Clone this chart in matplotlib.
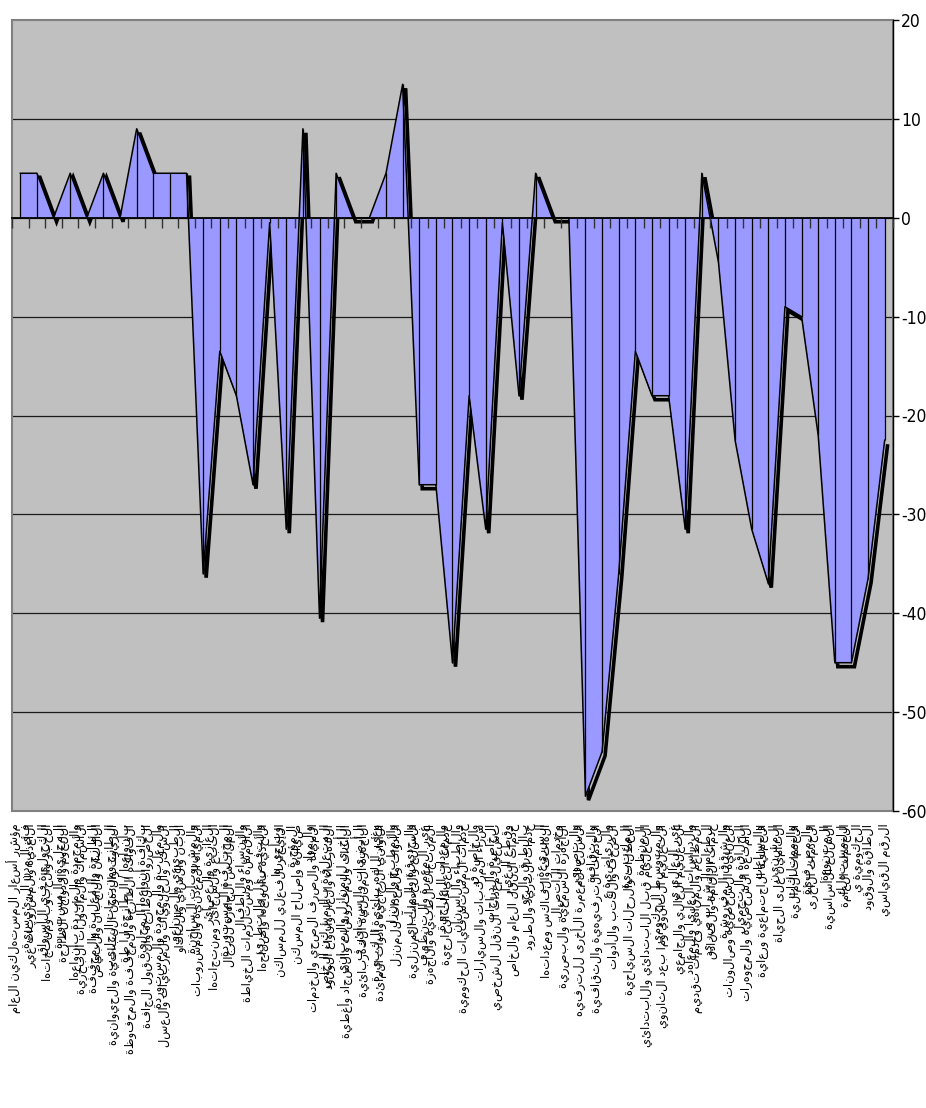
import numpy as np
import matplotlib
matplotlib.use("Agg")
import matplotlib.pyplot as plt
import matplotlib.transforms as mtransforms
from matplotlib import font_manager
from matplotlib.patches import Rectangle

plt.rcParams['axes.unicode_minus'] = False

values = [4.5, 4.5, 0, 4.5, 0, 4.5, 0, 9, 4.5, 4.5, 4.5,
          -36, -13.5, -18, -27, -0.5, -31.5, 9, -40.5, 4.5,
          0, 0, 4.5, 13.5, -27, -27, -45, -18, -31.5, -0.5,
          -18, 4.5, 0, 0, -58.5, -54, -36, -13.5, -18, -18,
          -31.5, 4.5, -4.5, -22.5, -31.5, -37, -9, -10, -22, -45,
          -45, -36.5, -22.5]

categories = [
    "مؤشر أسعار المستهلكين العام\nفي المدن الرئيسية",
    "الأغذية والمشروبات غير\nالكحولية في الأسواق",
    "الخبز والحبوب ومنتجاتها\nالمحلية والمستوردة",
    "اللحوم والدواجن الطازجة\nوالمجمدة والمبردة بأنواعها",
    "الأسماك والمأكولات البحرية\nالطازجة والمعلبة والمجففة",
    "الألبان والأجبان والبيض\nالطازج ومنتجات الحليب",
    "الزيوت والدهون النباتية والحيوانية\nبأنواعها / الطازجة لا طة",
    "الفواكه الطازجة والمجففة والمحفوظة\nبكافة أنواعها المحلية",
    "الخضروات الطازجة والبقول الجافة\nوالمعلبة والمجمدة والمستوردة",
    "السكر والحلويات والمربيات والعسل\nالطبيعي والصناعي",
    "البن والشاي والكاكاو\nوالمشروبات الساخنة",
    "المياه المعدنية والمشروبات\nالغازية والعصائر",
    "التبغ والسجائر ومنتجاتها\nالمختلفة المستوردة",
    "الملابس الجاهزة للرجال\nوالنساء والأطفال",
    "الأقمشة ومستلزمات الخياطة\nوالتفصيل والتطريز",
    "الأحذية بأنواعها وإصلاحها\nوتأجيرها",
    "الإيجار الفعلي للمساكن\nالمؤجرة",
    "صيانة وإصلاح المسكن\nوالمواد",
    "المياه والصرف الصحي والخدمات\nالمتعلقة بالمسكن الخاص",
    "الكهرباء والغاز وأنواع الوقود\nالأخرى للمنازل والمباني",
    "الأثاث والمفروشات والسجاد وأغطية\nالأرضيات والستائر ف",
    "الأجهزة المنزلية الكهربائية\nوغير الكهربائية الكبيرة",
    "الأواني الزجاجية وأدوات المائدة\nوالمطبخ والمنزل",
    "الأدوات والمعدات للمنزل\nوالحديقة والمرآب ي",
    "السلع والخدمات المنزلية\nغير المعمرة والتنظيف",
    "المنتجات الطبية والأجهزة\nوالمعدات العلاجية",
    "خدمات العيادات الخارجية\nوالأطباء والأسنان",
    "خدمات المستشفيات الحكومية\nوالخاصة ق",
    "شراء المركبات والسيارات\nالخاصة والدراجات",
    "تشغيل معدات النقل الشخصي\nوقطع الغيار",
    "خدمات النقل العام والخاص\nبالطرق والجو",
    "خدمات البريد والطرود\nالسريعة ب",
    "الهاتف والفاكس ومعداتها\nوخدمات الاتصال",
    "الأجهزة السمعية والبصرية\nوالتصوير",
    "السلع المعمرة الأخرى للترفيه\nوالثقافة",
    "الخدمات الترفيهية والثقافية\nوالرياضية ع",
    "الصحف والكتب والأدوات\nالمكتبية",
    "العطلات والرحلات السياحية\nالمنظمة",
    "التعليم قبل الابتدائي والابتدائي\nوالمتوسط الحكومي",
    "التعليم الثانوي وما بعد الثانوي\nغير العالي ي",
    "التعليم العالي والجامعي\nوالدراسات العليا والمعاهد",
    "المطاعم والمقاهي وخدمات تقديم\nالطعام والشراب صر ي",
    "خدمات الإقامة والفنادق\nوالشقق المفروشة",
    "العناية الشخصية وصالونات\nالحلاقة والتجميل",
    "الأمتعة الشخصية والمجوهرات\nوالساعات",
    "الحماية الاجتماعية ورعاية\nالمسنين",
    "التأمين على الحياة\nوالممتلكات",
    "الخدمات المالية\nوالمصرفية",
    "الخدمات الأخرى\nالمتنوعة",
    "السلع الأساسية\nللمستهلك",
    "الخدمات العامة\nالحكومية ي",
    "الطاقة والوقود",
    "الرقم القياسي",
]

yticks = [20, 10, 0, -10, -20, -30, -40, -50, -60]


def visual(s):
    # Arabic is right-to-left; matplotlib lays glyphs left-to-right
    return "\n".join(line[::-1] for line in s.split("\n"))


names = {f.name for f in font_manager.fontManager.ttflist}
tick_font = dict(family='Liberation Sans', size=12)
if 'Liberation Sans Narrow' in names:
    tick_font = dict(family='Liberation Sans Narrow', size=14)
elif any(f.name == 'DejaVu Sans' and f.stretch in ('condensed', 'semi-condensed')
         for f in font_manager.fontManager.ttflist):
    tick_font = dict(family='DejaVu Sans', stretch='condensed', size=12.5)

fig = plt.figure(figsize=(9.26, 11.08), dpi=100, facecolor='white')
ax = fig.add_axes([12/926, 1-811/1108, (893-12)/926, (811-20)/1108])
ax.set_facecolor('#C0C0C0')

x = np.arange(len(values))
v = np.array(values, dtype=float)

ax.set_xlim(-0.5, len(values) - 0.5)
ax.set_ylim(-60, 20)

for t in yticks:
    if -60 < t < 20:
        ax.axhline(t, color='#1a1a1a', lw=0.9, zorder=0.5)

shadow_tr = ax.transData + mtransforms.ScaledTranslation(0.03, -0.04, fig.dpi_scale_trans)
ax.plot(x, v, color='black', lw=2.6, transform=shadow_tr, zorder=1,
        solid_joinstyle='miter', solid_capstyle='butt')
ax.fill_between(x, 0, v, color='#9999FF', lw=0, zorder=1.5)
ax.vlines(x, 0, v, color='black', lw=0.9, zorder=1.8)
ax.plot(x, v, color='black', lw=1.1, zorder=2)

ax.spines['left'].set_visible(False)
ax.spines['top'].set_visible(False)
ax.spines['bottom'].set_position(('data', 0))
ax.spines['bottom'].set_color('black')
ax.spines['bottom'].set_linewidth(1.3)
ax.spines['right'].set_color('black')
ax.spines['right'].set_linewidth(1.0)
ax.add_patch(Rectangle((0, 0), 1, 1, transform=ax.transAxes, fill=False,
                       edgecolor='#808080', lw=1.5, zorder=0.6, clip_on=False))

ax.set_xticks(np.arange(-0.5, len(values), 1.0))
ax.set_xticklabels([])
ax.tick_params(axis='x', direction='out', length=7.5, width=1.0, color='#333333')
ax.set_axisbelow(False)

ax.yaxis.tick_right()
ax.set_yticks(yticks)
ax.set_yticklabels([str(t) for t in yticks])
ax.tick_params(axis='y', direction='out', length=4, width=1.0, color='black', pad=2)
for lab in ax.get_yticklabels():
    lab.set_fontfamily(tick_font['family'])
    lab.set_fontsize(tick_font['size'])
    if 'stretch' in tick_font:
        lab.set_fontstretch(tick_font['stretch'])

tr = mtransforms.blended_transform_factory(ax.transData, ax.transAxes)
for i, lab in enumerate(categories):
    ax.text(i, -0.016, visual(lab), transform=tr, rotation=90, ha='center', va='top',
            multialignment='right', fontsize=8.3, family=['DejaVu Sans'],
            linespacing=0.82, clip_on=False)

fig.savefig('out.png', dpi=100, facecolor='white')
